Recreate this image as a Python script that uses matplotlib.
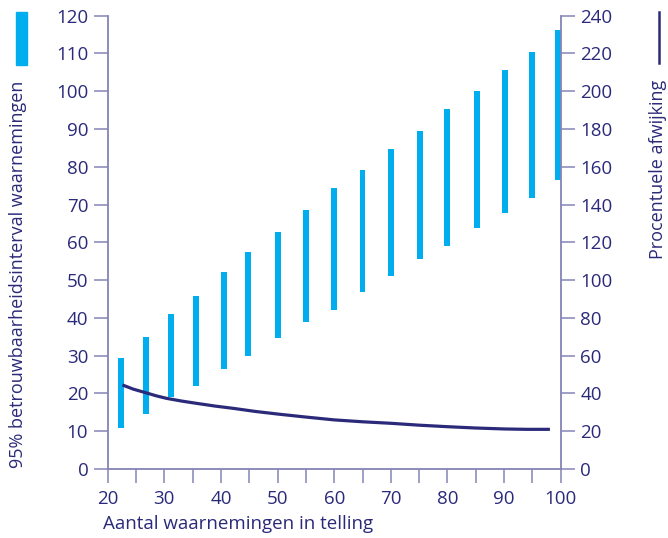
import numpy as np
from matplotlib import pyplot as plt
from matplotlib.patches import Rectangle
from matplotlib.lines import Line2D

# betrouwbaarheidsintervallen (aflezing uit de figuur)
bar_x = [22.3, 26.7, 31.2, 35.6, 40.5, 44.8, 50.0, 55.1, 60.0,
         65.0, 70.0, 75.1, 80.0, 85.3, 90.2, 94.9, 99.5]
bar_low = [10.9, 14.6, 19.0, 22.0, 26.6, 29.9, 34.7, 38.9, 42.1,
           46.9, 51.2, 55.7, 59.1, 63.9, 67.8, 71.8, 76.6]
bar_high = [29.4, 34.9, 41.0, 45.8, 52.1, 57.4, 62.7, 68.6, 74.4,
            79.1, 84.7, 89.5, 95.3, 100.0, 105.6, 110.4, 116.2]

# procentuele afwijking (rechter as)
line_x = [22.6, 24.5, 26.7, 28.5, 30.4, 33.0, 35.6, 39.0, 42.2, 46.0, 50.0,
          55.0, 60.0, 65.0, 70.0, 75.0, 80.0, 85.0, 90.0, 94.0, 98.1]
line_y = [44.5, 42.3, 40.4, 38.8, 37.4, 36.0, 34.8, 33.3, 32.1, 30.5, 29.1,
          27.5, 26.0, 25.0, 24.2, 23.2, 22.4, 21.7, 21.2, 21.0, 21.0]

navy = "#2b2a7a"
spine = "#8584b5"
blue = "#00aeef"

plt.rcParams['font.family'] = ['Open Sans', 'DejaVu Sans']
plt.rcParams['font.size'] = 13

W, H = 668, 538
fig = plt.figure(figsize=(W / 100, H / 100), dpi=100)
ax = fig.add_axes([107.7 / W, 1 - 469 / H, (560.7 - 107.7) / W, (469 - 15.7) / H])
ax2 = ax.twinx()

heights = np.array(bar_high) - np.array(bar_low)
ax.bar(bar_x, heights, bottom=bar_low, width=1.05, color=blue, zorder=2)
ax2.plot(line_x, line_y, color=navy, lw=2.3, solid_capstyle="butt", zorder=3)

ax.set_xlim(20, 100)
ax.set_ylim(0, 120)
ax2.set_ylim(0, 240)
ax.set_xticks(np.arange(20, 101, 10))
ax.set_xticks(np.arange(25, 100, 10), minor=True)
ax.set_yticks(np.arange(0, 121, 10))
ax2.set_yticks(np.arange(0, 241, 20))

for a in (ax, ax2):
    for s in a.spines.values():
        s.set_color(spine)
        s.set_linewidth(1.3)
    a.spines["top"].set_visible(False)
    a.tick_params(which="both", direction="out", length=10, width=1.1,
                  color=spine, labelcolor=navy, labelsize=13.5, pad=4)
ax.spines["right"].set_visible(False)
ax2.spines["left"].set_visible(False)
ax2.spines["bottom"].set_visible(False)
ax.tick_params(axis="x", pad=5)

# labels
fig.text(18 / W, 1 - 468 / H, "95% betrouwbaarheidsinterval waarnemingen",
         rotation=90, ha="center", va="bottom", color=navy, fontsize=13)
fig.text(658 / W, 1 - 259 / H, "Procentuele afwijking",
         rotation=90, ha="center", va="bottom", color=navy, fontsize=13)
fig.text(103 / W, 1 - 524 / H, "Aantal waarnemingen in telling",
         ha="left", va="center", color=navy, fontsize=13.5)

# legenda-tekens
fig.patches.append(Rectangle((16 / W, 1 - 65 / H), 11 / W, 53 / H,
                             transform=fig.transFigure, color=blue))
fig.lines.append(Line2D([659 / W, 659 / W], [1 - 63 / H, 1 - 12 / H],
                        transform=fig.transFigure, color=navy, lw=1.8))

fig.savefig("out.png", dpi=100)
